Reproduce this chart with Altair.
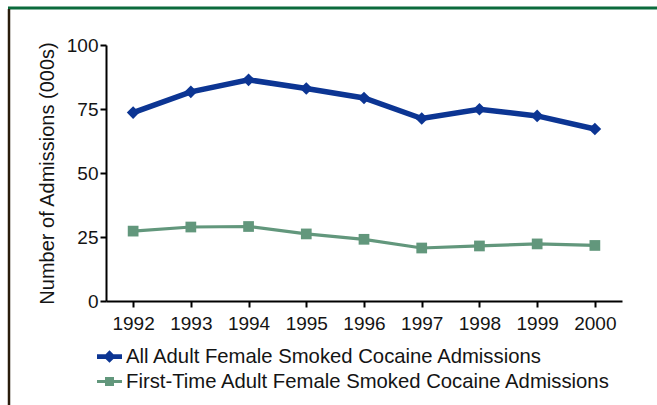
import altair as alt
import pandas as pd

years = [1992, 1993, 1994, 1995, 1996, 1997, 1998, 1999, 2000]
all_adm = [73.6, 81.7, 86.4, 83.0, 79.3, 71.3, 74.9, 72.3, 67.2]
first_adm = [27.3, 28.9, 29.1, 26.2, 24.1, 20.7, 21.5, 22.3, 21.7]
series_names = ["All Adult Female Smoked Cocaine Admissions",
                "First-Time Adult Female Smoked Cocaine Admissions"]
colors = ["#0c3593", "#62977c"]

rows = []
for y, a, f in zip(years, all_adm, first_adm):
    rows.append({"year": y, "series": series_names[0], "value": a})
    rows.append({"year": y, "series": series_names[1], "value": f})
df = pd.DataFrame(rows)
df_all = df[df.series == series_names[0]]
df_first = df[df.series == series_names[1]]

FONT = "Liberation Sans"

blue_path = ("M-1,-0.19 L-0.31,-0.19 L0,-0.5 L0.31,-0.19 L1,-0.19 L1,0.19 "
             "L0.31,0.19 L0,0.5 L-0.31,0.19 L-1,0.19 Z")
green_path = ("M-1,-0.12 L-0.36,-0.12 L-0.36,-0.36 L0.36,-0.36 L0.36,-0.12 L1,-0.12 "
              "L1,0.12 L0.36,0.12 L0.36,0.36 L-0.36,0.36 L-0.36,0.12 L-1,0.12 Z")

x_enc = alt.X("year:O", scale=alt.Scale(type="point", padding=0.47),
              axis=alt.Axis(title=None, labelAngle=0, labelPadding=7))
y_enc = alt.Y("value:Q", scale=alt.Scale(domain=[0, 100], nice=False),
              axis=alt.Axis(title="Number of Admissions (000s)", values=[0, 25, 50, 75, 100],
                            titlePadding=9, labelPadding=2))

legend = alt.Legend(
    title=None, orient="none", legendX=-9, legendY=299, direction="vertical",
    labelOffset=4, symbolSize=625, rowPadding=2, labelLimit=700,
    symbolOpacity=1, symbolStrokeWidth=0,
)

line_all = alt.Chart(df_all).mark_line(color=colors[0], strokeWidth=5.5).encode(x=x_enc, y=y_enc)
line_first = alt.Chart(df_first).mark_line(color=colors[1], strokeWidth=3.2).encode(x=x_enc, y=y_enc)
pts_all = alt.Chart(df_all).mark_point(
    shape="diamond", filled=True, size=160, opacity=1, color=colors[0]).encode(x=x_enc, y=y_enc)
pts_first = alt.Chart(df_first).mark_point(
    shape="square", filled=True, size=115, opacity=1, color=colors[1]).encode(x=x_enc, y=y_enc)

legend_layer = alt.Chart(df).mark_point(filled=True, opacity=0, size=10).encode(
    x=x_enc, y=y_enc,
    color=alt.Color("series:N", scale=alt.Scale(domain=series_names, range=colors), legend=legend),
    shape=alt.Shape("series:N", scale=alt.Scale(domain=series_names, range=[blue_path, green_path]),
                    legend=legend),
)

frame_df = pd.DataFrame({"k": [0]})
top_rule = alt.Chart(frame_df).mark_rule(color="#0b6b3c", strokeWidth=3).encode(
    x=alt.value(-98), x2=alt.value(560), y=alt.value(-37))
left_rule = alt.Chart(frame_df).mark_rule(color="#2a1c0c", strokeWidth=2.5).encode(
    x=alt.value(-97), y=alt.value(-36), y2=alt.value(370))

chart = alt.layer(line_all, line_first, pts_all, pts_first, legend_layer, top_rule, left_rule).properties(
    width=516, height=256,
    autosize=alt.AutoSizeParams(type="none"),
    padding={"left": 106, "top": 45, "right": 35, "bottom": 104},
    background="white",
).configure_view(stroke=None).configure_axis(
    labelFont=FONT, labelFontSize=19, labelColor="#141414",
    titleFont=FONT, titleFontSize=20, titleFontWeight="normal", titleColor="#141414",
    tickSize=6, tickWidth=2, tickColor="black",
    domainColor="black", domainWidth=2, grid=False,
).configure_legend(
    labelFont=FONT, labelFontSize=20.3, labelColor="#141414",
)

chart.save("out.html", embed_options={"renderer": "svg", "actions": False})
